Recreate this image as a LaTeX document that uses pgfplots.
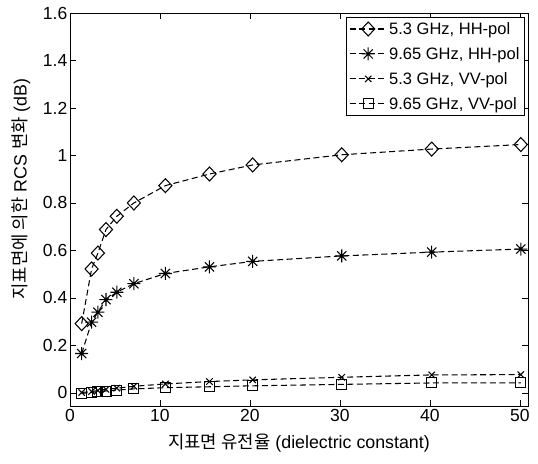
\documentclass[border=0pt]{standalone}
\usepackage{fontspec}
\setmainfont{Liberation Sans}
\newfontfamily\kr{Noto Sans CJK KR}
\usepackage{pgfplots}
\usepackage{pgfplotstable}
\pgfplotsset{compat=1.18}
\pgfdeclareplotmark{mstar}{%
  \pgfpathmoveto{\pgfqpoint{-\pgfplotmarksize}{0pt}}\pgfpathlineto{\pgfqpoint{\pgfplotmarksize}{0pt}}%
  \pgfpathmoveto{\pgfqpoint{0pt}{-\pgfplotmarksize}}\pgfpathlineto{\pgfqpoint{0pt}{\pgfplotmarksize}}%
  \pgfpathmoveto{\pgfqpoint{-0.7071\pgfplotmarksize}{-0.7071\pgfplotmarksize}}\pgfpathlineto{\pgfqpoint{0.7071\pgfplotmarksize}{0.7071\pgfplotmarksize}}%
  \pgfpathmoveto{\pgfqpoint{-0.7071\pgfplotmarksize}{0.7071\pgfplotmarksize}}\pgfpathlineto{\pgfqpoint{0.7071\pgfplotmarksize}{-0.7071\pgfplotmarksize}}%
  \pgfusepathqstroke}
\pgfplotstableread{
x y
1.3 0.292
2.4 0.522
3.1 0.589
4.0 0.688
5.2 0.744
7.1 0.800
10.6 0.873
15.5 0.922
20.3 0.960
30.2 1.003
40.2 1.027
50.1 1.046
}\hhA
\pgfplotstableread{
x y
1.3 0.166
2.4 0.298
3.1 0.340
4.0 0.393
5.2 0.424
7.1 0.460
10.6 0.503
15.5 0.531
20.3 0.554
30.2 0.577
40.2 0.593
50.1 0.606
}\hhB
\pgfplotstableread{
x y
1.3 0.002
2.4 0.006
3.1 0.010
4.0 0.015
5.2 0.020
7.1 0.028
10.6 0.038
15.5 0.048
20.3 0.055
30.2 0.066
40.2 0.076
50.1 0.077
}\vvA
\pgfplotstableread{
x y
1.3 -0.002
2.4 0.002
3.1 0.005
4.0 0.008
5.2 0.012
7.1 0.017
10.6 0.022
15.5 0.026
20.3 0.030
30.2 0.036
40.2 0.042
50.1 0.042
}\vvB
\begin{document}
\begin{tikzpicture}
\begin{axis}[
  scale only axis, width=458pt, height=393pt,
  xmin=0, xmax=50.9, ymin=-0.055, ymax=1.6,
  xtick={0,10,20,30,40,50},
  ytick={0,0.2,0.4,0.6,0.8,1,1.2,1.4,1.6},
  yticklabels={0,0.2,0.4,0.6,0.8,1,1.2,1.4,1.6},
  /pgf/number format/assume math mode=true,
  tick align=inside, major tick length=6pt,
  tick style={black, line width=0.7pt},
  axis line style={line width=0.9pt},
  tick label style={font=\fontsize{17.5}{17.5}\selectfont},
  yticklabel style={inner sep=2.5pt},
  xlabel={{\kr 지표면 유전율} (dielectric constant)},
  ylabel={{\kr 지표면에 의한} RCS {\kr 변화} (dB)},
  label style={font=\fontsize{17.8}{18}\selectfont},
  xlabel style={at={(axis description cs:0.5,-0.094)}, anchor=center},
  ylabel style={at={(axis description cs:-0.107,0.552)}, anchor=center},
  legend style={at={(0.993,0.99)}, anchor=north east, draw=black, line width=0.7pt,
    font=\fontsize{16.5}{16.5}\selectfont, row sep=7.5pt, inner sep=3pt},
  legend cell align=left,
  legend image code/.code={\draw[mark repeat=2,mark phase=2] plot coordinates {(0cm,0cm)(0.65cm,0cm)(1.3cm,0cm)};},
  every axis plot/.append style={black, line width=1.05pt, dash pattern=on 6pt off 3.5pt},
]
\addplot[mark=diamond, mark size=7pt, mark options={solid, xscale=1.25}] table {\hhA};
\addlegendentry{5.3 GHz, HH-pol}
\addplot[mark=mstar, mark size=6.5pt, mark options={solid}] table {\hhB};
\addlegendentry{9.65 GHz, HH-pol}
\addplot[mark=x, mark size=4.5pt, mark options={solid}] table {\vvA};
\addlegendentry{5.3 GHz, VV-pol}
\addplot[mark=square, mark size=5pt, mark options={solid}] table {\vvB};
\addlegendentry{9.65 GHz, VV-pol}
\end{axis}
\path ([xshift=-70pt,yshift=13pt]current axis.north west) rectangle ([xshift=10pt,yshift=-58pt]current axis.south east);
\end{tikzpicture}
\end{document}
